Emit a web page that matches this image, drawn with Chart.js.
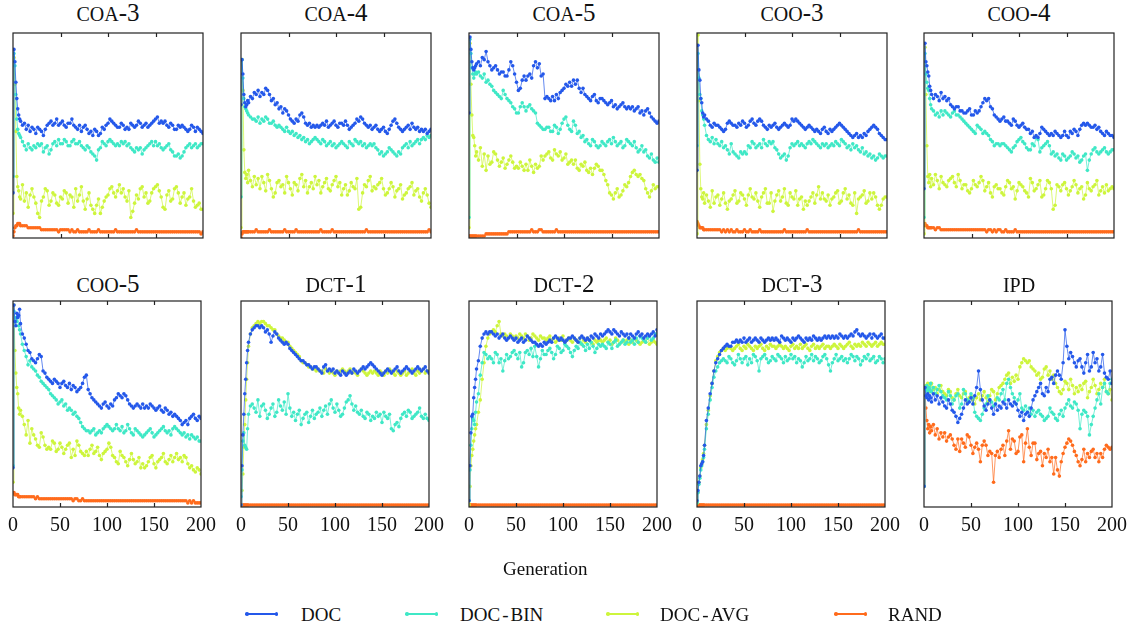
<!DOCTYPE html>
<html>
<head>
<meta charset="utf-8">
<script src="https://cdn.jsdelivr.net/npm/chart.js@4.4.1/dist/chart.umd.min.js"></script>
<style>
  body { margin: 0; background: #fff; }
  #wrap { position: relative; width: 1138px; height: 628px; font-family: 'Liberation Serif', 'DejaVu Serif', serif; color: #111; overflow: hidden; }
  #wrap canvas { position: absolute; }
  .title { position: absolute; text-align: center; font-size: 25px; line-height: 25px; white-space: nowrap; }
  .title .sc { font-size: 20px; }
  .label { position: absolute; font-size: 19px; line-height: 19px; white-space: nowrap; }
  .label .hy { margin: 0 2px; }
  .key { position: absolute; width: 31px; height: 1.5px; }
  .key i { position: absolute; top: -1px; width: 3.5px; height: 3.5px; border-radius: 50%; }
</style>
</head>
<body>
<div id="wrap"></div>
<script>
// Generations sampled (dense at the start, every 2 after)
const gens = [0,1,2,3,4,5,6,7,8,10,12,14,16,18,20,
  22,24,26,28,30,32,34,36,38,40,42,44,46,48,50,
  52,54,56,58,60,62,64,66,68,70,72,74,76,78,80,
  82,84,86,88,90,92,94,96,98,100,102,104,106,108,110,
  112,114,116,118,120,122,124,126,128,130,132,134,136,138,140,
  142,144,146,148,150,152,154,156,158,160,162,164,166,168,170,
  172,174,176,178,180,182,184,186,188,190,192,194,196,198,200];
const xTicks = [0, 50, 100, 150, 200];

const seriesNames = ['DOC', 'DOC-BIN', 'DOC-AVG', 'RAND'];
const seriesColors = ['#2458ea', '#3fe8c6', '#cdf53c', '#ff6b1c'];
const lineColors = ['rgba(36,88,234,0.7)', 'rgba(63,232,198,0.7)', 'rgba(205,245,60,0.7)', 'rgba(255,107,28,0.7)'];

// Values are % of each panel's height (panels have no y scale)
// COA-3
const coa3Doc = [22,92,86,76,68,63,60,58,57,55,56,53,55,52,54,
  53,51,54,53,52,50,53,55,56,57,55,56,58,55,56,
  57,55,54,56,56,58,55,54,53,55,52,54,55,53,51,
  52,50,53,52,50,51,54,53,55,56,58,57,56,55,54,
  54,56,55,53,54,53,56,55,54,55,57,56,54,55,56,
  54,55,56,57,58,59,56,57,56,57,55,54,56,55,53,
  53,55,54,55,54,53,52,53,55,54,52,54,53,52,51];
const coa3Bin = [30,90,84,70,58,53,51,50,49,47,45,43,46,44,43,
  45,44,46,45,46,42,44,45,41,43,46,47,45,48,46,
  46,48,47,45,45,47,48,46,46,47,45,44,43,45,44,
  42,41,40,38,43,44,47,46,45,47,48,47,46,45,46,
  45,47,46,47,45,46,44,43,42,44,43,44,41,43,44,
  45,46,47,45,47,45,46,44,43,44,45,46,43,42,40,
  40,41,39,40,42,44,45,46,44,45,46,44,45,46,46];
const coa3Avg = [12,88,75,52,30,25,23,20,19,26,18,22,15,21,24,
  20,17,12,10,18,20,24,23,16,18,22,21,17,16,20,
  19,23,22,17,21,20,15,24,18,21,25,18,14,19,22,
  16,14,12,16,19,12,15,18,20,21,24,25,22,20,23,
  26,22,24,20,18,23,10,13,17,21,19,24,25,20,22,
  17,18,22,24,25,26,23,20,15,14,21,23,18,19,24,
  25,22,17,20,22,16,19,20,24,18,15,16,17,14,14];
const coa3Rand = [1,3,5,6,6,7,7,7,6,6,6,6,5,5,5,
  5,5,5,5,4,4,4,4,4,4,4,4,4,3,4,
  4,4,4,4,3,4,3,3,4,3,3,3,3,3,4,
  3,3,3,3,4,3,3,3,3,3,3,3,3,4,3,
  3,3,3,3,3,3,3,3,3,4,3,3,3,3,3,
  3,3,3,3,3,3,3,3,3,3,3,3,3,3,3,
  3,3,3,3,3,3,3,3,3,3,3,3,3,2,3];

// COA-4
const coa4Doc = [65,87,80,70,66,64,65,67,66,69,68,71,70,72,69,
  71,70,73,72,70,67,68,65,66,63,64,61,63,62,60,
  58,57,56,58,57,60,61,59,56,55,56,54,55,54,55,
  54,55,56,55,57,54,55,56,57,55,54,56,56,55,57,
  55,53,54,55,56,58,57,59,58,56,55,54,55,53,54,
  55,53,52,53,54,52,51,53,55,57,58,56,54,53,52,
  53,54,55,53,56,54,53,54,52,53,52,53,51,52,53];
const coa4Bin = [20,87,78,68,64,63,62,61,60,59,58,58,57,59,56,
  58,57,59,58,56,56,57,55,54,55,54,53,52,54,52,
  51,52,50,51,49,50,48,49,47,48,46,47,48,49,48,
  47,46,48,47,45,46,47,45,46,44,45,46,47,46,45,
  44,47,46,45,48,47,46,47,45,46,44,45,46,45,46,
  44,43,41,42,40,41,42,44,43,42,41,40,42,41,44,
  45,46,44,47,45,46,47,48,46,48,49,48,50,49,50];
const coa4Avg = [5,87,72,43,32,29,31,27,33,28,25,30,26,29,24,
  30,27,23,31,28,24,20,22,27,28,25,26,22,30,27,
  24,21,27,26,23,29,31,25,28,22,25,27,24,30,26,
  28,22,25,27,29,24,23,26,28,30,25,27,21,24,26,
  21,23,27,25,24,29,14,15,22,26,25,28,30,23,25,
  24,26,27,29,24,21,22,24,27,25,20,23,24,26,19,
  21,22,24,25,27,21,23,24,20,18,22,24,21,17,15];
const coa4Rand = [0,2,3,3,3,3,3,3,3,3,3,3,4,3,3,
  3,3,3,3,4,3,3,3,3,3,3,3,4,3,3,
  3,3,3,4,3,3,3,3,3,3,3,3,3,3,3,
  3,4,3,3,3,3,3,4,3,3,3,3,3,3,3,
  3,3,3,3,3,3,3,3,3,3,4,3,3,3,3,
  3,3,3,3,3,3,3,3,3,3,3,3,3,3,3,
  3,3,3,3,3,3,3,3,3,3,3,3,3,4,3];

// COA-5
const coa5Doc = [61,98,92,86,83,82,83,84,85,86,84,88,87,91,86,
  84,82,83,84,82,80,81,81,79,79,82,86,84,80,76,
  72,73,77,79,77,79,80,78,84,86,83,85,79,80,68,
  69,68,67,69,67,70,68,71,72,73,75,74,76,74,77,
  75,77,73,71,73,70,69,68,67,69,70,67,66,68,68,
  67,66,65,66,67,64,65,63,64,65,66,64,63,64,63,
  64,62,63,64,61,62,60,62,63,61,59,58,57,56,57];
const coa5Bin = [10,97,90,83,80,78,80,81,80,81,79,78,80,76,77,
  75,74,72,71,70,69,68,72,70,68,67,66,64,63,61,
  61,64,66,64,62,64,65,63,62,61,56,55,54,53,53,
  54,54,52,52,55,54,51,53,56,58,59,55,53,52,57,
  55,51,52,49,50,47,48,46,45,48,47,45,44,45,47,
  46,45,47,48,46,49,47,45,46,47,44,45,48,47,46,
  45,47,44,42,43,45,42,43,40,39,41,38,37,39,37];
const coa5Avg = [5,95,75,60,50,49,45,40,42,38,44,35,41,33,40,
  36,37,42,41,38,35,37,39,34,36,38,40,37,34,35,
  34,37,35,33,36,33,38,35,32,36,34,35,40,38,40,
  41,42,39,38,43,41,40,42,38,39,41,36,37,38,36,
  38,34,33,36,35,37,33,32,34,31,34,36,35,33,33,
  31,28,26,22,21,19,22,24,20,21,23,26,25,27,30,
  32,33,31,30,31,29,28,24,22,20,23,26,24,25,25];
const coa5Rand = [1,1,1,1,1,1,1,1,1,1,1,1,1,2,2,
  2,2,2,2,2,2,2,2,2,2,3,3,3,3,3,
  3,3,3,3,3,3,3,4,3,3,3,4,4,3,3,
  3,3,3,3,3,4,3,3,3,3,3,3,3,3,3,
  3,3,3,3,3,3,3,3,3,3,3,3,3,3,3,
  3,3,3,3,3,3,3,3,3,3,3,3,3,3,3,
  3,3,3,3,3,3,3,3,3,3,3,3,3,3,3];

// COO-3
const coo3Doc = [33,94,82,77,68,66,61,59,60,58,57,55,54,56,55,
  55,54,53,52,53,56,57,56,55,55,54,56,55,57,56,
  54,55,57,58,56,55,57,58,57,55,54,53,55,54,55,
  56,54,53,54,55,56,55,54,55,58,57,58,57,56,55,
  54,53,54,55,54,53,52,53,52,51,53,54,52,51,53,
  52,53,54,55,56,55,54,53,52,51,50,49,50,51,49,
  50,49,51,50,52,53,54,55,54,53,51,50,49,48,48];
const coo3Bin = [45,90,78,70,68,62,60,58,55,50,48,47,49,46,48,
  46,45,47,44,45,43,41,46,42,41,40,39,42,41,42,
  41,45,44,47,46,44,45,46,44,48,46,45,47,46,47,
  44,43,41,39,40,41,38,40,44,46,45,46,47,45,46,
  45,44,46,47,46,48,47,46,45,44,46,45,46,44,45,
  46,45,47,46,45,48,47,46,44,45,43,46,44,45,43,
  42,44,41,42,40,41,39,40,38,39,41,40,39,40,40];
const coo3Avg = [2,99,67,36,24,20,19,22,17,21,18,15,23,17,20,
  21,16,19,22,17,14,18,19,21,23,17,18,22,21,19,
  16,21,24,20,19,22,18,15,20,22,24,17,17,22,13,
  18,21,23,18,20,24,17,16,22,20,19,23,16,19,20,
  14,18,16,18,20,22,17,21,25,19,22,19,18,21,16,
  19,20,22,23,17,18,22,24,19,21,17,16,22,12,19,
  20,21,23,17,18,22,19,22,20,16,14,16,19,20,20];
const coo3Rand = [8,7,6,5,5,5,5,4,4,4,4,4,4,4,4,
  4,4,3,4,3,4,3,4,3,3,4,3,3,3,4,
  3,3,4,3,3,3,3,4,3,3,3,3,3,3,3,
  3,3,3,3,3,4,3,3,3,3,3,3,3,3,3,
  3,3,4,3,3,3,3,3,3,3,3,3,3,3,3,
  3,3,3,3,3,3,3,3,3,3,3,3,3,3,4,
  3,3,3,3,3,3,3,3,3,3,3,3,3,3,3];

// COO-4
const coo4Doc = [24,95,86,84,81,79,74,72,70,68,70,69,67,71,68,
  69,67,68,65,64,63,64,64,62,62,61,61,62,63,60,
  60,62,61,62,64,66,68,67,68,64,63,60,59,58,57,
  58,59,57,57,56,55,58,57,55,54,55,56,54,53,53,
  51,52,49,50,49,51,54,53,52,51,50,51,50,52,51,
  50,49,50,52,50,49,52,51,53,52,50,53,55,56,55,
  56,55,54,54,55,53,54,52,51,50,52,51,50,50,49];
const coo4Bin = [10,90,80,76,73,72,68,65,63,62,60,61,59,62,60,
  62,61,60,59,61,62,60,60,59,58,57,56,55,54,53,
  52,51,55,54,53,51,52,51,50,48,47,45,46,46,45,
  46,46,45,44,43,42,44,45,47,48,49,47,46,44,43,
  43,46,45,49,48,42,44,45,46,47,45,41,42,40,41,
  39,38,41,40,38,39,40,42,41,39,40,37,38,40,41,
  33,38,41,43,44,42,41,42,43,44,42,41,42,43,43];
const coo4Avg = [2,93,70,45,30,27,31,25,29,26,31,28,24,30,27,
  26,25,28,29,30,27,25,31,28,24,26,26,23,22,24,
  28,26,25,27,30,28,23,25,27,22,20,25,26,24,24,
  22,21,25,28,27,24,25,19,23,27,26,25,23,22,20,
  29,27,23,24,26,28,20,21,24,28,27,24,14,16,26,
  25,23,26,27,24,21,23,25,28,26,22,24,25,19,21,
  27,24,23,25,26,28,21,23,25,22,26,23,24,25,24];
const coo4Rand = [6,7,6,6,5,5,5,5,5,5,4,5,5,4,4,
  4,4,4,4,4,4,4,4,4,4,4,4,4,4,4,
  4,4,4,4,4,4,4,3,4,4,3,4,3,4,4,
  3,3,4,3,3,3,3,4,3,3,3,3,3,3,3,
  3,3,3,3,3,3,3,3,3,3,3,3,3,3,3,
  3,3,3,3,3,3,3,3,3,3,3,3,3,3,3,
  3,3,3,3,3,3,3,3,3,3,3,3,3,3,3];

// COO-5
const coo5Doc = [19,98,90,88,94,92,93,96,89,84,82,79,76,75,72,
  71,70,72,74,73,66,65,63,62,61,60,62,61,60,58,
  60,61,59,58,60,57,59,58,56,57,58,60,63,64,57,
  55,53,52,51,50,49,48,50,51,49,48,50,49,52,53,
  55,54,53,55,54,52,50,49,48,49,50,49,48,50,48,
  49,48,50,49,48,47,48,49,47,46,48,47,45,46,44,
  45,44,43,42,40,41,42,40,43,44,45,43,42,44,43];
const coo5Bin = [20,95,90,92,90,92,88,86,84,79,76,73,69,71,68,
  67,66,64,63,61,60,59,58,57,55,54,53,52,50,51,
  52,49,50,47,48,47,45,46,44,43,41,39,38,37,37,
  36,37,38,35,36,37,36,38,39,40,39,38,37,38,40,
  38,37,39,36,37,40,38,36,35,38,37,36,35,34,35,
  36,37,38,36,34,35,36,37,38,39,37,36,37,35,38,
  39,38,37,36,35,36,34,35,33,35,34,33,34,32,32];
const coo5Avg = [12,98,76,65,58,55,48,45,47,44,40,35,42,31,38,
  35,33,30,29,36,34,30,28,29,28,32,31,27,28,31,
  29,26,28,30,31,24,28,25,32,30,27,26,25,27,25,
  28,30,26,27,29,25,23,26,27,28,31,29,25,24,22,
  21,27,25,24,22,20,23,26,23,21,22,24,19,21,19,
  20,22,24,25,21,19,22,23,24,26,22,21,23,25,22,
  24,26,23,24,22,25,24,21,19,20,18,17,19,18,16];
const coo5Rand = [7,7,6,6,6,6,5,5,5,5,5,5,5,5,5,
  5,4,5,4,4,4,4,4,4,4,4,4,4,4,4,
  4,4,4,4,4,4,3,4,4,3,3,4,3,3,3,
  3,3,3,3,3,3,3,3,3,3,3,3,3,3,3,
  3,3,3,3,3,3,3,3,3,3,3,3,3,3,3,
  3,3,3,3,3,3,3,3,3,3,3,3,3,3,3,
  3,3,3,3,3,3,3,2,3,2,3,2,2,2,2];

// DCT-1
const dct1Doc = [1,20,35,45,55,62,70,76,80,84,86,87,88,88,87,
  88,87,85,86,84,80,83,85,84,82,81,80,79,80,79,
  77,76,75,74,73,72,71,71,70,69,69,68,67,68,68,
  67,66,65,68,69,66,67,66,67,65,66,65,64,66,65,
  64,65,66,65,67,66,65,66,67,68,67,68,69,70,69,
  68,67,66,65,64,65,66,67,66,65,66,67,68,66,65,
  66,67,68,67,66,65,66,67,68,67,66,67,68,66,65];
const dct1Bin = [5,18,32,36,30,29,28,38,45,49,50,48,46,52,44,
  49,50,47,43,45,48,50,44,46,52,49,47,51,45,55,
  48,44,46,42,45,47,40,43,45,46,41,44,47,43,45,
  46,48,44,47,49,45,50,52,48,46,50,47,44,45,48,
  51,52,54,50,47,49,46,45,47,44,43,46,45,42,44,
  43,46,44,45,41,46,44,43,45,38,37,40,41,39,43,
  45,46,44,47,46,43,44,45,46,48,44,43,45,43,42];
const dct1Avg = [1,8,16,29,40,52,62,70,78,84,87,88,89,90,89,
  90,90,89,88,88,87,86,86,84,83,82,82,81,80,80,
  78,77,76,75,74,73,71,70,70,69,68,68,67,67,66,
  67,66,66,65,67,66,65,66,65,64,66,65,66,67,66,
  65,66,67,65,66,65,64,66,67,66,65,64,65,66,65,
  66,65,64,66,65,64,66,65,67,66,65,64,66,65,64,
  65,66,64,65,66,67,65,64,66,65,66,67,65,66,66];
const dct1Rand = [1,1,1,1,1,1,1,1,1,1,1,1,1,1,1,
  1,1,1,1,1,1,1,1,1,1,1,1,1,1,1,
  1,1,1,1,1,1,1,1,1,1,1,1,1,1,1,
  1,1,1,1,1,1,1,1,1,1,1,1,1,1,1,
  1,1,1,1,1,1,1,1,1,1,1,1,1,1,1,
  1,1,1,1,1,1,1,1,1,1,1,1,1,1,1,
  1,1,1,1,1,1,1,1,1,1,1,1,1,1,1];

// DCT-2
const dct2Doc = [3,20,36,44,45,53,58,62,67,71,78,82,84,85,84,
  85,85,84,83,84,82,83,84,82,81,82,83,82,81,82,
  80,81,82,80,81,83,82,81,80,80,79,78,79,78,80,
  79,80,81,80,82,83,82,81,82,81,80,81,82,82,83,
  82,81,80,82,83,82,81,82,81,83,82,84,83,82,84,
  83,84,85,86,85,84,86,85,84,83,85,84,83,84,82,
  84,83,82,84,85,83,84,82,83,84,83,84,85,83,86];
const dct2Bin = [3,18,30,38,43,42,40,46,51,55,64,70,75,74,72,
  73,72,70,75,74,70,72,66,71,74,72,73,75,76,74,
  72,75,68,70,75,76,74,77,73,78,73,68,72,76,74,
  74,76,77,75,72,74,78,77,75,76,79,78,77,75,73,
  76,78,77,80,79,78,76,79,77,80,78,75,77,79,78,
  79,78,77,80,79,77,80,81,78,79,80,81,79,80,82,
  80,81,79,82,80,83,82,81,80,82,83,81,82,84,84];
const dct2Avg = [1,10,20,25,28,32,35,38,40,46,52,62,70,78,82,
  84,85,86,85,88,90,84,83,84,83,82,84,83,82,83,
  82,84,83,82,84,83,81,82,84,83,82,81,83,82,82,
  81,82,83,81,82,80,81,82,81,83,80,81,82,81,80,
  82,81,80,82,79,81,80,82,81,80,79,81,80,81,81,
  80,81,82,80,81,79,80,82,81,79,80,81,80,81,79,
  81,80,82,81,80,79,80,81,80,82,79,80,81,80,79];
const dct2Rand = [1,1,1,1,1,1,1,1,1,1,1,1,1,1,1,
  1,1,1,1,1,1,1,1,1,1,1,1,1,1,1,
  1,1,1,1,1,1,1,1,1,1,1,1,1,1,1,
  1,1,1,1,1,1,1,1,1,1,1,1,1,1,1,
  1,1,1,1,1,1,1,1,1,1,1,1,1,1,1,
  1,1,1,1,1,1,1,1,1,1,1,1,1,1,1,
  1,1,1,1,1,1,1,1,1,1,1,1,1,1,1];

// DCT-3
const dct3Doc = [3,8,12,15,20,21,22,25,30,42,48,55,60,66,70,
  72,74,76,77,78,79,78,78,80,80,81,80,81,80,82,
  80,81,82,80,81,82,81,80,82,81,80,81,82,81,82,
  81,82,81,80,83,82,81,82,81,80,82,81,82,83,82,
  81,80,82,81,82,81,83,82,81,82,81,82,83,82,83,
  82,83,82,83,82,84,83,82,83,82,83,84,83,85,86,
  84,83,84,83,82,83,84,82,84,83,82,83,84,82,82];
const dct3Bin = [2,7,11,14,18,20,22,24,28,38,45,52,58,63,66,
  68,70,71,72,71,70,73,72,70,69,71,74,72,70,72,
  73,69,72,70,74,73,71,66,72,73,74,72,70,71,73,
  72,71,74,73,72,70,73,71,72,74,72,73,70,72,71,
  68,70,73,71,72,74,71,73,72,70,71,73,74,72,69,
  66,70,72,74,71,72,73,71,72,70,72,74,73,71,73,
  72,69,71,73,72,74,71,72,73,70,71,73,72,70,72];
const dct3Avg = [2,7,12,15,19,21,23,26,30,40,47,54,60,66,71,
  73,75,76,77,76,77,78,77,76,77,78,79,77,76,78,
  77,79,78,77,76,78,77,78,79,77,76,78,77,79,78,
  78,77,78,79,78,77,78,77,76,78,79,77,78,77,79,
  77,78,79,77,76,78,79,77,78,77,78,79,77,78,78,
  77,78,79,78,77,79,78,77,78,79,80,78,77,79,78,
  79,78,80,79,78,80,79,78,79,80,78,79,80,79,79];
const dct3Rand = [1,1,1,1,1,1,1,1,1,1,1,1,1,1,1,
  1,1,1,1,1,1,1,1,1,1,1,1,1,1,1,
  1,1,1,1,1,1,1,1,1,1,1,1,1,1,1,
  1,1,1,1,1,1,1,1,1,1,1,1,1,1,1,
  1,1,1,1,1,1,1,1,1,1,1,1,1,1,1,
  1,1,1,1,1,1,1,1,1,1,1,1,1,1,1,
  1,1,1,1,1,1,1,1,1,1,1,1,1,1,1];

// IPD
const ipdDoc = [10,58,54,53,55,52,54,53,51,55,52,54,50,53,51,
  49,48,52,50,47,46,44,41,43,45,48,52,50,51,53,
  50,54,58,66,57,52,49,47,50,52,48,45,50,47,49,
  48,51,50,48,52,50,49,51,50,47,44,46,42,45,46,
  44,48,52,54,56,58,60,55,54,58,56,62,63,60,64,
  66,64,62,70,86,78,72,75,73,70,68,71,72,68,65,
  70,74,66,68,75,70,72,66,68,74,65,63,62,66,60];
const ipdBin = [10,58,57,59,56,58,57,60,56,58,55,57,59,56,54,
  53,52,56,54,50,52,54,55,48,50,57,55,52,51,55,
  53,46,44,43,42,45,48,50,54,52,51,49,50,53,52,
  55,57,52,60,62,58,55,53,50,52,55,48,47,49,46,
  48,45,47,44,46,47,45,44,42,43,44,48,46,45,43,
  42,45,47,44,48,50,52,49,48,51,50,47,38,45,47,
  46,44,35,40,44,48,52,55,50,58,60,56,55,60,62];
const ipdAvg = [10,58,59,57,60,58,59,56,60,57,58,55,57,59,56,
  55,54,57,56,53,52,55,57,54,53,55,56,51,53,54,
  52,50,53,55,52,54,56,53,51,54,57,56,52,55,58,
  59,60,62,64,65,60,63,61,64,62,68,70,72,71,70,
  71,68,67,66,64,65,62,63,67,68,64,66,62,64,60,
  58,56,55,57,61,60,57,62,59,55,58,56,59,57,60,
  61,53,56,58,62,59,55,57,60,58,62,56,55,57,52];
const ipdRand = [10,58,48,42,38,40,36,39,37,40,35,38,33,36,34,
  36,32,34,35,33,30,28,33,27,33,31,29,35,34,30,
  26,29,31,28,22,30,32,30,25,27,26,12,25,27,24,
  28,30,25,32,37,28,33,32,26,27,34,35,22,31,38,
  29,25,31,31,23,26,27,20,26,24,28,22,24,16,24,
  18,15,22,26,29,31,33,32,30,27,25,22,20,23,28,
  22,26,24,27,28,24,26,22,26,24,28,30,29,28,29];

const panelTitles = ['COA-3', 'COA-4', 'COA-5', 'COO-3', 'COO-4', 'COO-5', 'DCT-1', 'DCT-2', 'DCT-3', 'IPD'];
const panelSeries = [
  [coa3Doc, coa3Bin, coa3Avg, coa3Rand],
  [coa4Doc, coa4Bin, coa4Avg, coa4Rand],
  [coa5Doc, coa5Bin, coa5Avg, coa5Rand],
  [coo3Doc, coo3Bin, coo3Avg, coo3Rand],
  [coo4Doc, coo4Bin, coo4Avg, coo4Rand],
  [coo5Doc, coo5Bin, coo5Avg, coo5Rand],
  [dct1Doc, dct1Bin, dct1Avg, dct1Rand],
  [dct2Doc, dct2Bin, dct2Avg, dct2Rand],
  [dct3Doc, dct3Bin, dct3Avg, dct3Rand],
  [ipdDoc, ipdBin, ipdAvg, ipdRand]
];

// Layout (px)
const colLeft = [13, 241, 469, 697, 924];
const rowTop = [33, 301];
const rowHeight = [205, 206];
const plotWidth = 190;
const titleTop = [0, 271];
const legendX = [246, 406, 607, 835];
const legendTextX = [301, 460, 660, 888];

const wrap = document.getElementById('wrap');

// Box round the plot area plus inward ticks top and bottom
const framePlugin = {
  id: 'frame',
  afterDraw(chart) {
    const { ctx, chartArea: a, scales: { x } } = chart;
    ctx.save();
    ctx.strokeStyle = '#222';
    ctx.lineWidth = 1.2;
    ctx.strokeRect(a.left, a.top, a.right - a.left, a.bottom - a.top);
    ctx.beginPath();
    xTicks.slice(1, -1).forEach(v => {
      const px = Math.round(x.getPixelForValue(v)) + 0.5;
      ctx.moveTo(px, a.top); ctx.lineTo(px, a.top + 4);
      ctx.moveTo(px, a.bottom); ctx.lineTo(px, a.bottom - 4);
    });
    ctx.stroke();
    ctx.restore();
  }
};

function splitTitle(t) {
  const m = t.match(/^([A-Z]+)(.*)$/);
  return `<span class="sc">${m[1]}</span>${m[2]}`;
}

function drawPanel(i) {
  const row = Math.floor(i / 5), col = i % 5;
  const left = colLeft[col], top = rowTop[row], h = rowHeight[row];
  const axisH = row === 1 ? 34 : 6;

  const title = document.createElement('div');
  title.className = 'title';
  title.style.left = left + 'px';
  title.style.width = plotWidth + 'px';
  title.style.top = titleTop[row] + 'px';
  title.innerHTML = splitTitle(panelTitles[i]);
  wrap.appendChild(title);

  const canvas = document.createElement('canvas');
  canvas.width = plotWidth + 40;
  canvas.height = h + 6 + axisH;
  canvas.style.left = (left - 20) + 'px';
  canvas.style.top = (top - 6) + 'px';
  wrap.appendChild(canvas);

  new Chart(canvas, {
    type: 'line',
    data: {
      datasets: panelSeries[i].map((vals, k) => ({
        label: seriesNames[k],
        data: vals.map((v, j) => ({ x: gens[j], y: v })),
        borderColor: lineColors[k],
        backgroundColor: seriesColors[k],
        pointBackgroundColor: seriesColors[k],
        pointBorderWidth: 0,
        pointRadius: 1.8,
        borderWidth: 1,
        tension: 0
      }))
    },
    options: {
      responsive: false,
      animation: false,
      events: [],
      layout: { padding: { left: 20, right: 20, top: 6, bottom: row === 1 ? 0 : 6 } },
      plugins: { legend: { display: false }, tooltip: { enabled: false } },
      scales: {
        x: {
          type: 'linear', min: 0, max: 200,
          display: row === 1,
          afterFit: s => { s.height = row === 1 ? 34 : 0; },
          afterBuildTicks: s => { s.ticks = xTicks.map(v => ({ value: v })); },
          grid: { display: false, drawTicks: false },
          border: { display: false },
          ticks: { padding: 7, color: '#111', autoSkip: false, maxRotation: 0, font: { family: 'Liberation Serif', size: 20 } }
        },
        y: { min: 0, max: 100, display: false }
      }
    },
    plugins: [framePlugin]
  });
}

function addLabel(html, x, y) {
  const d = document.createElement('div');
  d.className = 'label';
  d.style.left = x + 'px';
  d.style.top = y + 'px';
  d.innerHTML = html;
  wrap.appendChild(d);
  return d;
}

function drawLegend() {
  seriesNames.forEach((name, k) => {
    const key = document.createElement('div');
    key.className = 'key';
    key.style.left = legendX[k] + 'px';
    key.style.top = '613px';
    key.style.background = seriesColors[k];
    key.innerHTML = `<i style="left:-1px;background:${seriesColors[k]}"></i><i style="right:-1px;background:${seriesColors[k]}"></i>`;
    wrap.appendChild(key);
    addLabel(name.replace('-', '<span class="hy">-</span>'), legendTextX[k], 605);
  });
}

panelTitles.forEach((_, i) => drawPanel(i));
const xLabel = addLabel('Generation', 0, 559);
xLabel.style.left = (545 - xLabel.offsetWidth / 2) + 'px';
drawLegend();
</script>
</body>
</html>
